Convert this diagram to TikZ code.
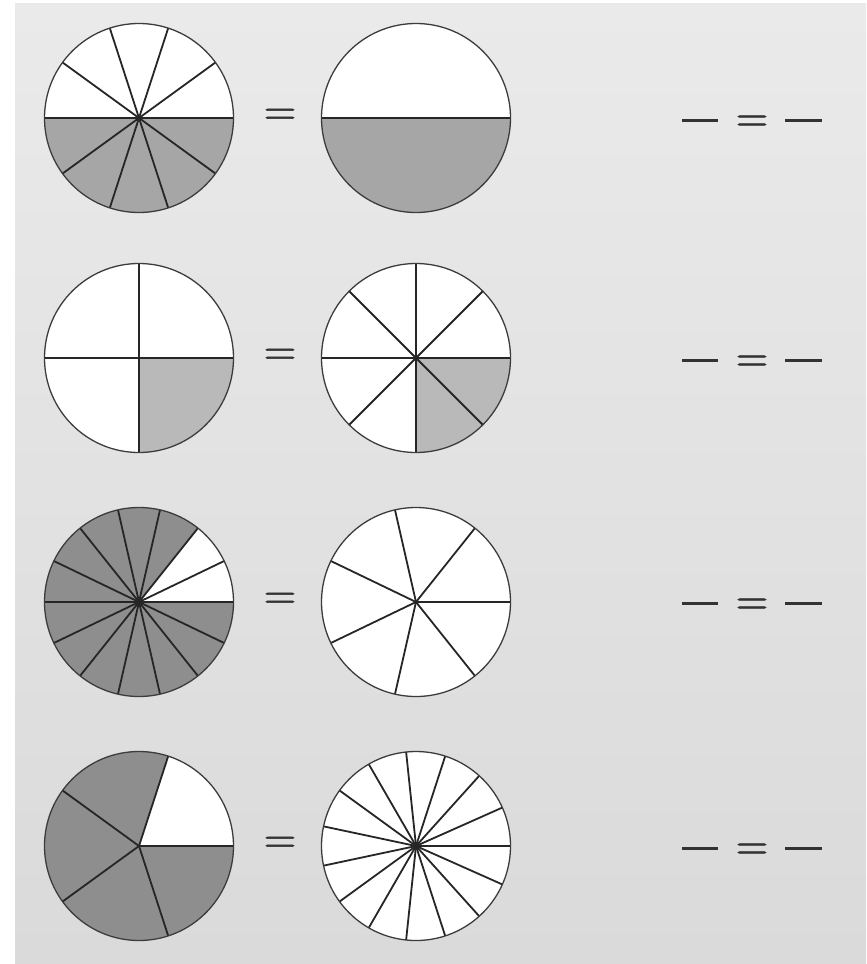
\documentclass[tikz,border=0pt]{standalone}
\usepackage{fontspec}
\newfontfamily\eqfont{Latin Modern Roman}[FakeBold=1.2]
\usepackage{tikz}
\usetikzlibrary{positioning,calc}

\definecolor{bgtop}{HTML}{EAEAEA}
\definecolor{bgbot}{HTML}{DADADA}
\definecolor{rimgray}{HTML}{3C3C3C}
\definecolor{shadeA}{HTML}{A6A6A6}
\definecolor{shadeB}{HTML}{B9B9B9}
\definecolor{shadeC}{HTML}{8E8E8E}

% pie: name, centre, parts, shaded parts (ending at 0 degrees), colour
\newcommand{\fracpie}[5]{%
  \coordinate (#1) at (#2);
  \fill[white] (#1) circle[radius=94.5pt];
  \ifnum#4>0
    \fill[#5] (#1) -- ++({360-#4*360/#3}:94.5pt)
      arc[start angle={360-#4*360/#3}, end angle=360, radius=94.5pt] -- cycle;
  \fi
  \foreach \k in {1,...,#3} \draw[spoke] (#1) -- ++({\k*360/#3}:94.5pt);
  \draw[rim] (#1) circle[radius=94.5pt];
}

\begin{document}
\begin{tikzpicture}[
        x=1pt, y=1pt,
        spoke/.style={draw=black!85, line width=1.8pt},
        rim/.style={draw=rimgray, line width=1.3pt},
        eqsign/.style={inner sep=0pt, anchor=base, text=black!80, font=\eqfont\fontsize{45}{45}\selectfont},
        blank/.style={draw=black!80, line width=2.4pt},
    ]
        % --- page and background ---
        \useasboundingbox (0,0) rectangle (867,-964);
        \shade[top color=bgtop, bottom color=bgbot] (15,-3) rectangle (866,-964);

        % --- Row 1: tenths and halves ---
        \fracpie{p1a}{139,-118}{10}{5}{shadeA}
        \fracpie{p1b}{416,-118}{2}{1}{shadeA}
        \node[eqsign] (eq1) at (280,-125) {=};

        % --- Row 2: quarters and eighths ---
        \fracpie{p2a}{139,-358}{4}{1}{shadeB}
        \fracpie{p2b}{416,-358}{8}{2}{shadeB}
        \node[eqsign] (eq2) at (280,-365) {=};

        % --- Row 3: fourteenths and sevenths ---
        \fracpie{p3a}{139,-602}{14}{12}{shadeC}
        \fracpie{p3b}{416,-602}{7}{0}{shadeC}
        \node[eqsign] (eq3) at (280,-609) {=};

        % --- Row 4: fifths and fifteenths ---
        \fracpie{p4a}{139,-846}{5}{4}{shadeC}
        \fracpie{p4b}{416,-846}{15}{0}{shadeC}
        \node[eqsign] (eq4) at (280,-853) {=};

        % --- answer blanks ---
        \foreach \row/\yy in {1/-120.5, 2/-360.5, 3/-603.5, 4/-848.5} {
            \node[eqsign] (ans\row) at (752,\yy-11.25) {=};
            \draw[blank] (682,\yy) -- (718,\yy);
            \draw[blank] (785,\yy) -- (822,\yy);
        }

    \end{tikzpicture}
\end{document}
